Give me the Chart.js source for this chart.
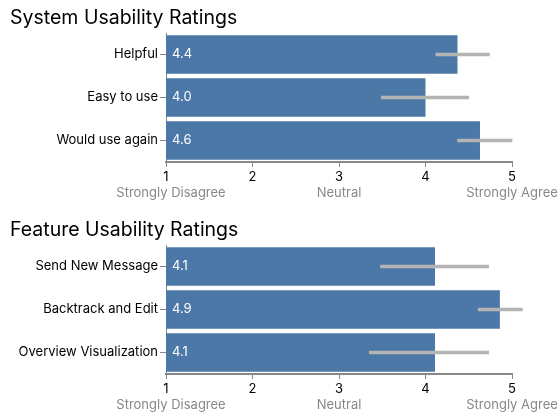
<!DOCTYPE html>
<html>
<head>
<meta charset="utf-8">
<script src="https://cdn.jsdelivr.net/npm/chart.js@4"></script>
<style>
  body { margin: 0; background: #fff; }
  .painel { position: absolute; left: 0; width: 558px; }
</style>
</head>
<body>
<div class="painel" style="top:0;height:205px"><canvas id="g-sistema"></canvas></div>
<div class="painel" style="top:212px;height:205px"><canvas id="g-recursos"></canvas></div>
<script>
// dados
const escala = [1, 2, 3, 4, 5];
const nomesEscala = { 1: "Strongly Disagree", 3: "Neutral", 5: "Strongly Agree" };

const sistemaTitulo = "System Usability Ratings";
const sistemaItens = ["Helpful", "Easy to use", "Would use again"];
const sistemaMedia = [4.37, 4.0, 4.63];
const sistemaMin = [4.12, 3.49, 4.37];
const sistemaMax = [4.74, 4.50, 5.0];

const recursosTitulo = "Feature Usability Ratings";
const recursosItens = ["Send New Message", "Backtrack and Edit", "Overview Visualization"];
const recursosMedia = [4.11, 4.86, 4.11];
const recursosMin = [3.48, 4.61, 3.35];
const recursosMax = [4.73, 5.12, 4.73];

const FONTE = "Inter, 'Noto Sans', sans-serif";
const AZUL = "#4c78a8";
const CINZA = "#888";

// título, valores dentro das barras e nomes da escala
const enfeites = {
  id: "enfeites",
  afterDraw(chart, args, opts) {
    const ctx = chart.ctx, x = chart.scales.x, y = chart.scales.y;
    ctx.save();
    ctx.font = "19.5px " + FONTE;
    ctx.fillStyle = "#000";
    ctx.textBaseline = "middle";
    ctx.textAlign = "left";
    ctx.fillText(opts.titulo, 10, 18);

    ctx.font = "13px " + FONTE;
    ctx.fillStyle = "#fff";
    const meta = chart.getDatasetMeta(1);
    meta.data.forEach((bar, i) => {
      ctx.fillText(opts.medias[i].toFixed(1), x.getPixelForValue(1) + 6, bar.y);
    });

    ctx.font = "13px " + FONTE;
    ctx.fillStyle = CINZA;
    ctx.textAlign = "center";
    escala.forEach(v => {
      if (nomesEscala[v]) ctx.fillText(nomesEscala[v], x.getPixelForValue(v) + (v === 1 ? 5 : 0), y.bottom + 31);
    });
    ctx.restore();
  }
};

function grafico(id, titulo, itens, medias, mins, maxs) {
  return new Chart(document.getElementById(id), {
    type: "bar",
    data: {
      labels: itens,
      datasets: [
        {
          data: itens.map((_, i) => [mins[i], maxs[i]]),
          backgroundColor: "#b4b4b4", barThickness: 3, grouped: false, order: 0, clip: false
        },
        {
          data: medias, backgroundColor: AZUL, barPercentage: 0.9, categoryPercentage: 1,
          grouped: false, order: 1
        }
      ]
    },
    options: {
      indexAxis: "y",
      responsive: true, maintainAspectRatio: false, animation: false,
      layout: { padding: { top: 33, right: 46, left: 0, bottom: 0 } },
      plugins: { legend: { display: false }, tooltip: { enabled: false }, enfeites: { titulo, medias } },
      scales: {
        x: {
          min: 1, max: 5,
          afterFit: s => { s.height = 43; },
          afterBuildTicks: s => { s.ticks = escala.map(v => ({ value: v })); },
          grid: { drawOnChartArea: false, tickLength: 5, color: CINZA, lineWidth: 1 },
          border: { color: CINZA, width: 2 },
          ticks: { color: "#000", font: { family: FONTE, size: 13 }, padding: 2, maxRotation: 0 }
        },
        y: {
          afterFit: s => { s.width = 166; },
          grid: { drawOnChartArea: false, offset: false, tickLength: 6, color: CINZA, lineWidth: 1 },
          border: { color: CINZA, width: 1 },
          ticks: { color: "#000", font: { family: FONTE, size: 13 }, padding: 2 }
        }
      }
    },
    plugins: [enfeites]
  });
}

grafico("g-sistema", sistemaTitulo, sistemaItens, sistemaMedia, sistemaMin, sistemaMax);
grafico("g-recursos", recursosTitulo, recursosItens, recursosMedia, recursosMin, recursosMax);
</script>
</body>
</html>
